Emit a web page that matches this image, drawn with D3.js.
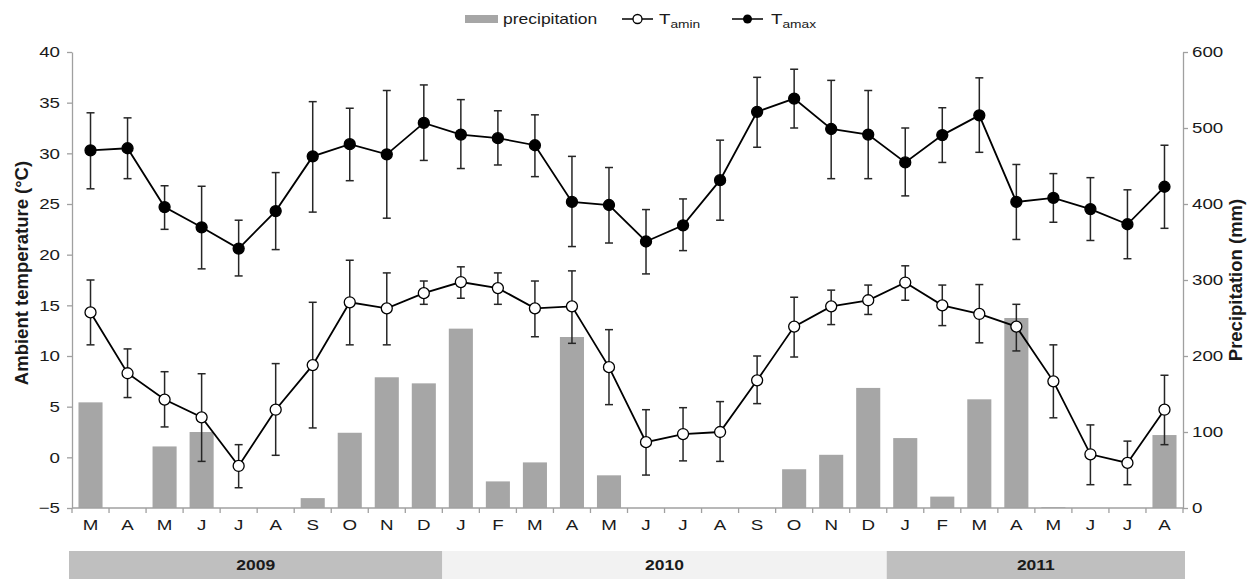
<!DOCTYPE html>
<html>
<head>
<meta charset="utf-8">
<script src="https://cdn.jsdelivr.net/npm/d3@7/dist/d3.min.js"></script>
<style>
  html, body { margin: 0; padding: 0; background: #fff; }
  svg { display: block; font-family: "Liberation Sans", Arial, sans-serif; }
</style>
</head>
<body>
<svg id="chart" width="1257" height="579"></svg>
<script>
// ---- Data ----
const months = ["M","A","M","J","J","A","S","O","N","D","J","F","M","A","M","J","J","A","S","O","N","D","J","F","M","A","M","J","J","A"];
const yearLabels = ["2009", "2010", "2011"];
const yearMonthCounts = [10, 12, 8];
const precipitation = [139, 0, 81, 100, 0, 0, 13, 99, 172, 164, 236, 35, 60, 225, 43, 0, 0, 0, 0, 51, 70, 158, 92, 15, 143, 250, 1, 0, 0, 96];
const tmin = [14.3, 8.3, 5.7, 3.95, -0.85, 4.7, 9.1, 15.3, 14.7, 16.2, 17.3, 16.7, 14.7, 14.9, 8.9, 1.5, 2.3, 2.5, 7.6, 12.9, 14.9, 15.5, 17.25, 15.0, 14.15, 12.9, 7.5, 0.3, -0.55, 4.7];
const tminErrLow = [11.1, 5.9, 3.0, -0.4, -3.0, 0.2, 2.9, 11.1, 11.1, 15.1, 15.7, 15.1, 11.9, 11.25, 5.2, -1.75, -0.35, -0.4, 5.3, 9.9, 13.1, 14.1, 15.5, 13.0, 11.3, 10.5, 3.9, -2.7, -2.7, 1.25];
const tminErrHigh = [17.5, 10.7, 8.45, 8.25, 1.25, 9.25, 15.3, 19.45, 18.2, 17.4, 18.8, 18.2, 17.4, 18.4, 12.6, 4.7, 4.9, 5.5, 10.0, 15.8, 16.5, 17.0, 18.9, 17.0, 17.05, 15.1, 11.1, 3.2, 1.6, 8.1];
const tmax = [30.3, 30.5, 24.7, 22.7, 20.6, 24.3, 29.7, 30.9, 29.9, 33.0, 31.85, 31.5, 30.8, 25.2, 24.9, 21.3, 22.9, 27.35, 34.1, 35.4, 32.4, 31.85, 29.1, 31.8, 33.75, 25.2, 25.6, 24.5, 23.0, 26.7];
const tmaxErrLow = [26.5, 27.5, 22.5, 18.6, 17.9, 20.5, 24.2, 27.3, 23.6, 29.3, 28.5, 28.85, 27.7, 20.8, 21.15, 18.1, 20.4, 23.4, 30.6, 32.5, 27.5, 27.5, 25.8, 29.1, 30.1, 21.5, 23.2, 21.4, 19.6, 22.6];
const tmaxErrHigh = [34.0, 33.5, 26.8, 26.75, 23.4, 28.1, 35.1, 34.45, 36.2, 36.75, 35.3, 34.2, 33.8, 29.7, 28.6, 24.45, 25.5, 31.3, 37.5, 38.3, 37.2, 36.2, 32.5, 34.5, 37.45, 28.9, 28.0, 27.6, 26.4, 30.8];
const tempTicks = [-5, 0, 5, 10, 15, 20, 25, 30, 35, 40];
const precipTicks = [0, 100, 200, 300, 400, 500, 600];

(function draw() {
// ---- Layout ----
const svg = d3.select("#chart");
const pLeft = 72, pRight = 1183, pTop = 52, pBottom = 508;
const axisColor = "#a0a0a0";
const textColor = "#1a1a1a";
const SX = 1.25; // horizontal text stretch seen in the reference

const idx = d3.range(months.length);
const x = d3.scaleBand().domain(idx).range([pLeft, pRight]).paddingInner(0.35).paddingOuter(0.175);
const cx = i => x(i) + x.bandwidth() / 2;
const yT = d3.scaleLinear().domain([-5, 40]).range([pBottom, pTop]);
const yP = d3.scaleLinear().domain([0, 600]).range([pBottom, pTop]);
const step = x.step();
const boundaries = d3.range(months.length + 1).map(i => pLeft + step * i);

// stretched text helper: anchor point (px,py)
function sText(parent, px, py, str, size, anchor, weight) {
  const t = parent.append("text")
    .attr("transform", `translate(${px},${py}) scale(${SX},1)`)
    .attr("text-anchor", anchor || "start")
    .style("font-size", size + "px")
    .attr("fill", textColor);
  if (weight) t.style("font-weight", weight);
  if (str !== null) t.text(str);
  return t;
}

// ---- Bars ----
svg.append("g").selectAll("rect").data(idx.filter(i => precipitation[i] > 0)).join("rect")
  .attr("x", i => x(i))
  .attr("width", x.bandwidth())
  .attr("y", i => yP(precipitation[i]))
  .attr("height", i => yP(0) - yP(precipitation[i]))
  .attr("fill", "#a6a6a6");

// ---- Axes ----
const leftAxis = svg.append("g").attr("transform", `translate(${pLeft},0)`)
  .call(d3.axisLeft(yT).tickValues(tempTicks).tickSize(5).tickSizeOuter(0).tickFormat(d3.format("d")));
const rightAxis = svg.append("g").attr("transform", `translate(${pRight},0)`)
  .call(d3.axisRight(yP).tickValues(precipTicks).tickSize(5).tickSizeOuter(0));
const bottomAxis = svg.append("g").attr("transform", `translate(0,${pBottom})`)
  .call(d3.axisBottom(x).tickSize(0).tickPadding(10).tickFormat(i => months[i]));
bottomAxis.select(".domain").attr("d", `M${pLeft},0H${pRight}`);
bottomAxis.selectAll(".btick").data(boundaries).join("line")
  .attr("class", "btick")
  .attr("x1", d => d).attr("x2", d => d)
  .attr("y1", 0).attr("y2", 5)
  .attr("stroke", axisColor).attr("stroke-width", 1.3);

[leftAxis, rightAxis, bottomAxis].forEach(g => {
  g.select(".domain").attr("stroke", axisColor).attr("stroke-width", 1.3);
  g.selectAll(".tick line").attr("stroke", axisColor).attr("stroke-width", 1.3);
  g.selectAll("text").attr("fill", textColor).style("font-size", "15px")
    .style("font-family", "Liberation Sans, Arial, sans-serif")
    .attr("transform", `scale(${SX},1)`);
});
leftAxis.selectAll("text").attr("x", -12 / SX);
rightAxis.selectAll("text").attr("x", 9 / SX);
bottomAxis.selectAll(".tick text").attr("y", 11);

// ---- Axis titles ----
svg.append("text")
  .attr("transform", `translate(28,273) rotate(-90)`)
  .attr("text-anchor", "middle")
  .style("font-size", "18.5px").style("font-weight", "bold").attr("fill", textColor)
  .text("Ambient temperature (°C)");
svg.append("text")
  .attr("transform", `translate(1242,280) rotate(-90)`)
  .attr("text-anchor", "middle")
  .style("font-size", "18.5px").style("font-weight", "bold").attr("fill", textColor)
  .text("Precipitation (mm)");

// ---- Error bars ----
function errorBars(lo, hi) {
  const g = svg.append("g").attr("stroke", "#262626").attr("stroke-width", 1.5);
  g.selectAll(".v").data(idx).join("line")
    .attr("x1", cx).attr("x2", cx)
    .attr("y1", i => yT(lo[i])).attr("y2", i => yT(hi[i]));
  g.selectAll(".cl").data(idx).join("line")
    .attr("x1", i => cx(i) - 4).attr("x2", i => cx(i) + 4)
    .attr("y1", i => yT(lo[i])).attr("y2", i => yT(lo[i]));
  g.selectAll(".ch").data(idx).join("line")
    .attr("x1", i => cx(i) - 4).attr("x2", i => cx(i) + 4)
    .attr("y1", i => yT(hi[i])).attr("y2", i => yT(hi[i]));
}
errorBars(tminErrLow, tminErrHigh);
errorBars(tmaxErrLow, tmaxErrHigh);

// ---- Lines + markers ----
function series(vals, fill) {
  svg.append("path")
    .datum(idx)
    .attr("fill", "none").attr("stroke", "#000").attr("stroke-width", 1.8)
    .attr("d", d3.line().x(cx).y(i => yT(vals[i])));
  svg.append("g").selectAll("circle").data(idx).join("circle")
    .attr("cx", cx).attr("cy", i => yT(vals[i])).attr("r", 5.5)
    .attr("fill", fill).attr("stroke", "#000").attr("stroke-width", 1.3);
}
series(tmin, "#fff");
series(tmax, "#000");

// ---- Year bands ----
let start = 0;
const bandG = svg.append("g");
yearLabels.forEach((yr, k) => {
  const x0 = boundaries[start] - (k === 0 ? 3 : 0);
  const x1 = boundaries[start + yearMonthCounts[k]] + (k === yearLabels.length - 1 ? 2 : 0);
  bandG.append("rect").attr("x", x0).attr("y", 551).attr("width", x1 - x0).attr("height", 28)
    .attr("fill", k % 2 === 0 ? "#bfbfbf" : "#f2f2f2");
  sText(bandG, (x0 + x1) / 2, 570, yr, 14, "middle", "bold");
  start += yearMonthCounts[k];
});

// ---- Legend ----
const lg = svg.append("g");
const ly = 19;
lg.append("rect").attr("x", 465).attr("y", ly - 4).attr("width", 33).attr("height", 8).attr("fill", "#a6a6a6");
sText(lg, 503, ly + 5, "precipitation", 14);
lg.append("line").attr("x1", 622).attr("x2", 653).attr("y1", ly).attr("y2", ly).attr("stroke", "#000").attr("stroke-width", 1.5);
lg.append("circle").attr("cx", 637.5).attr("cy", ly).attr("r", 4.5).attr("fill", "#fff").attr("stroke", "#000").attr("stroke-width", 1.3);
const t1 = sText(lg, 659, ly + 5, null, 15);
t1.append("tspan").text("T");
t1.append("tspan").attr("dy", 4).style("font-size", "11px").text("amin");
lg.append("line").attr("x1", 732).attr("x2", 763).attr("y1", ly).attr("y2", ly).attr("stroke", "#000").attr("stroke-width", 1.5);
lg.append("circle").attr("cx", 747.5).attr("cy", ly).attr("r", 4.5).attr("fill", "#000");
const t2 = sText(lg, 771, ly + 5, null, 15);
t2.append("tspan").text("T");
t2.append("tspan").attr("dy", 4).style("font-size", "11px").text("amax");
})();
</script>
</body>
</html>
